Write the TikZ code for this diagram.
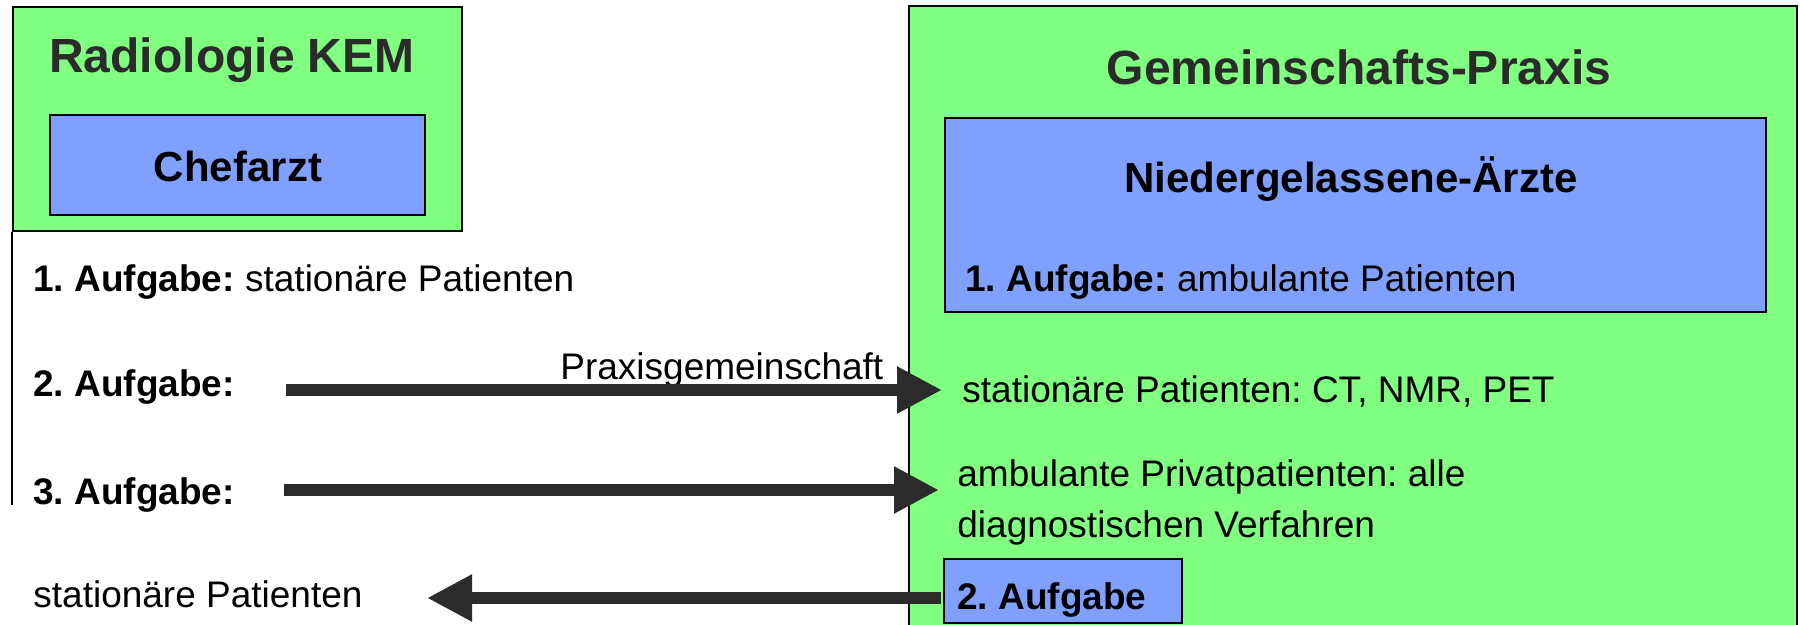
\documentclass[tikz,border=0pt]{standalone}
\usepackage{fontspec}
\setmainfont{Liberation Sans}
\usetikzlibrary{arrows.meta}
\definecolor{boxgreen}{RGB}{128,255,128}
\definecolor{boxblue}{RGB}{128,160,255}
\definecolor{darkink}{RGB}{43,43,43}
\frenchspacing
\tikzset{
  greenbox/.style={draw=black, line width=1.2pt, fill=boxgreen},
  bluebox/.style={draw=black, line width=1.2pt, fill=boxblue},
  titletext/.style={anchor=base, inner sep=0pt, text=darkink, font=\frenchspacing\fontsize{24}{28}\selectfont\bfseries},
  headtext/.style={anchor=base, inner sep=0pt, font=\frenchspacing\fontsize{21}{25}\selectfont\bfseries},
  bodytext/.style={anchor=base west, inner sep=0pt, font=\frenchspacing\fontsize{18.5}{25.5}\selectfont},
  boldbody/.style={bodytext, font=\frenchspacing\fontsize{18.5}{25.5}\selectfont\bfseries},
  bigarrow/.style={draw=darkink, line width=6pt, -{Triangle[length=22.5pt,width=22pt]}}
}
\begin{document}
\begin{tikzpicture}[x=0.5pt,y=-0.5pt]
\useasboundingbox (0,0) rectangle (1800,625);
\clip (0,0) rectangle (1800,625);
% left group
\node[greenbox, minimum width=449*0.5pt, minimum height=224*0.5pt, anchor=north west] (kem) at (12,6) {};
\draw[line width=1.2pt] (kem.south west) -- ++(0,273);
\node[bluebox, minimum width=375*0.5pt, minimum height=100*0.5pt, anchor=north west] (chef) at (49,114) {};
\node[titletext] (kemtitle) at (232,73) {Radiologie KEM};
\node[headtext] (cheftitle) at (238,182) {Chefarzt};
% right group
\node[greenbox, minimum width=888*0.5pt, minimum height=660*0.5pt, anchor=north west] (praxis) at (908,5) {};
\node[bluebox, minimum width=821*0.5pt, minimum height=194*0.5pt, anchor=north west] (aerzte) at (944,117) {};
\node[bluebox, minimum width=238*0.5pt, minimum height=64*0.5pt, anchor=north west] (auf2box) at (943,558) {};
\node[titletext] (praxistitle) at (1359,85) {Gemeinschafts-Praxis};
\node[headtext] (aerztetitle) at (1351,193) {Niedergelassene-Ärzte};
\node[bodytext] (amb) at (965,292) {\textbf{1. Aufgabe:} ambulante Patienten};
\node[bodytext] (statct) at (962,403) {stationäre Patienten: CT, NMR, PET};
\node[bodytext] (privat1) at (957,487) {ambulante Privatpatienten: alle};
\node[bodytext] (privat2) at (957,538) {diagnostischen Verfahren};
\node[boldbody] (auf2) at (957,610) {2. Aufgabe};
% left texts
\node[bodytext] (stat1) at (33,292) {\textbf{1. Aufgabe:} stationäre Patienten};
\node[boldbody] (a2) at (33,397) {2. Aufgabe:};
\node[boldbody] (a3) at (33,505) {3. Aufgabe:};
\node[bodytext] (statback) at (33,608) {stationäre Patienten};
\node[bodytext] (pg) at (560,380) {Praxisgemeinschaft};
% arrows
\coordinate (a2s) at (286,390);
\coordinate (a2e) at (942,390);
\coordinate (a3s) at (284,490);
\coordinate (a3e) at (939,490);
\coordinate (a4s) at (941,598);
\coordinate (a4e) at (427,598);
\draw[bigarrow] (a2s) -- (a2e);
\draw[bigarrow] (a3s) -- (a3e);
\draw[bigarrow] (a4s) -- (a4e);
\end{tikzpicture}
\end{document}
